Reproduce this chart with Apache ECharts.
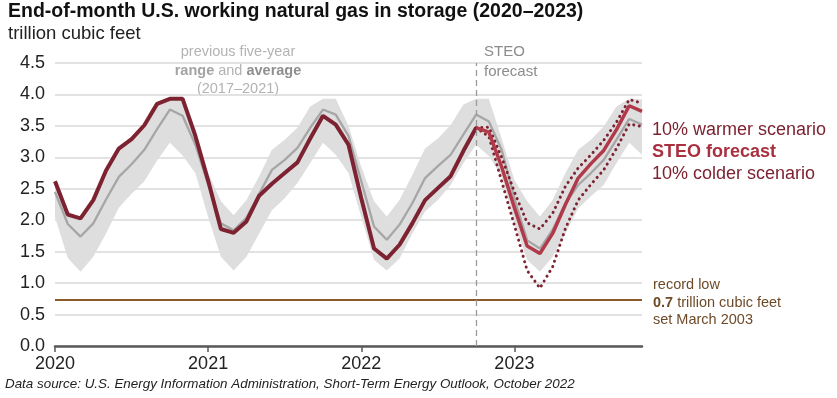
<!DOCTYPE html>
<html lang="en">
<head>
<meta charset="UTF-8">
<title>Working natural gas in storage</title>
<script src="https://cdn.jsdelivr.net/npm/echarts@6/dist/echarts.min.js"></script>
<style>
  html, body { margin: 0; padding: 0; background: #fff; }
  #chart { width: 837px; height: 398px; }
</style>
</head>
<body>
<div id="chart"></div>
<script>
// months Jan 2020 .. Nov 2023
var years = ['2020', '2021', '2022', '2023'];
var months = ['Jan', 'Feb', 'Mar', 'Apr', 'May', 'Jun', 'Jul', 'Aug', 'Sep', 'Oct', 'Nov', 'Dec'];
var categories = [];
years.forEach(function (y) {
    months.forEach(function (m) { categories.push(m + ' ' + y); });
});
categories = categories.slice(0, 47);

// trillion cubic feet
var storageHistory = [2.62, 2.09, 2.03, 2.32, 2.79, 3.14, 3.29, 3.51, 3.85, 3.93, 3.93, 3.34,
    2.63, 1.86, 1.80, 1.98, 2.39, 2.58, 2.75, 2.92, 3.30, 3.66, 3.52, 3.20,
    2.35, 1.55, 1.39, 1.61, 1.95, 2.32, 2.51, 2.70, 3.10, 3.47];
// Oct 2022 .. Nov 2023
var forecast = [3.47, 3.40, 2.85, 2.20, 1.59, 1.47, 1.79, 2.25, 2.67, 2.90, 3.11, 3.44, 3.82, 3.73];
var warmer = [3.47, 3.48, 3.00, 2.45, 1.96, 1.86, 2.11, 2.54, 2.83, 3.04, 3.27, 3.56, 3.92, 3.86];
var colder = [3.47, 3.33, 2.62, 1.92, 1.20, 0.92, 1.26, 1.87, 2.32, 2.57, 2.80, 3.14, 3.53, 3.49];

var average = [2.45, 1.94, 1.74, 1.95, 2.33, 2.69, 2.89, 3.12, 3.45, 3.76, 3.66, 3.20,
    2.57, 1.95, 1.84, 2.04, 2.42, 2.80, 2.96, 3.15, 3.47, 3.76, 3.68, 3.34,
    2.62, 1.90, 1.69, 1.93, 2.27, 2.67, 2.86, 3.04, 3.36, 3.68, 3.57, 3.12,
    2.35, 1.68, 1.55, 1.85, 2.27, 2.56, 2.75, 2.96, 3.28, 3.61, 3.52];
var rangeHigh = [2.58, 2.15, 2.04, 2.34, 2.76, 3.12, 3.27, 3.48, 3.82, 3.93, 3.93, 3.45,
    2.75, 2.30, 2.08, 2.32, 2.70, 3.12, 3.28, 3.47, 3.81, 3.93, 3.93, 3.50,
    2.85, 2.30, 2.06, 2.32, 2.72, 3.14, 3.30, 3.51, 3.84, 3.93, 3.93, 3.30,
    2.64, 2.30, 2.06, 2.32, 2.75, 3.12, 3.28, 3.49, 3.81, 3.93, 3.92];
var rangeLow = [2.05, 1.40, 1.18, 1.42, 1.79, 2.20, 2.42, 2.62, 2.95, 3.23, 3.03, 2.75,
    2.05, 1.42, 1.20, 1.42, 1.79, 2.16, 2.35, 2.59, 2.91, 3.23, 3.04, 2.75,
    2.05, 1.37, 1.20, 1.39, 1.79, 2.14, 2.32, 2.56, 2.91, 3.20, 3.02, 2.70,
    1.95, 1.37, 1.18, 1.42, 1.79, 2.19, 2.38, 2.56, 2.91, 3.23, 3.04];

var recordLow = 0.73;
var forecastStart = 33; // Oct 2022

var FONT = "'Liberation Sans', Arial, sans-serif";
var maroon = '#7d2231';
var steoRed = '#b0394a';
var brown = '#8a5a2b';

function padFront(arr, n) {
    return new Array(n).fill(null).concat(arr);
}
var bandSpan = rangeHigh.map(function (v, i) { return +(v - rangeLow[i]).toFixed(2); });

var chart = echarts.init(document.getElementById('chart'), null, {renderer: 'canvas'});
chart.setOption({
    animation: false,
    backgroundColor: '#fff',
    grid: {left: 55, right: 195, top: 63, bottom: 52},
    xAxis: {
        type: 'category',
        data: categories,
        boundaryGap: false,
        axisLine: {lineStyle: {color: '#595959', width: 2.5}},
        axisTick: {
            interval: function (i) { return i % 12 === 0; },
            length: 6,
            lineStyle: {color: '#595959', width: 1.5}
        },
        axisLabel: {
            interval: function (i) { return i % 12 === 0; },
            formatter: function (v) { return v.split(' ')[1]; },
            color: '#222',
            fontSize: 18,
            fontFamily: FONT,
            margin: 9
        },
        splitLine: {show: false}
    },
    yAxis: {
        type: 'value',
        min: 0,
        max: 4.5,
        interval: 0.5,
        axisLine: {show: false},
        axisTick: {show: false},
        axisLabel: {
            formatter: function (v) { return v.toFixed(1); },
            color: '#222',
            fontSize: 18,
            fontFamily: FONT,
            margin: 10
        },
        splitLine: {lineStyle: {color: '#d9d9d9', width: 1.5}}
    },
    series: [
        {
            name: 'rangeLow',
            type: 'line',
            data: rangeLow,
            stack: 'band',
            symbol: 'none',
            lineStyle: {opacity: 0},
            silent: true
        },
        {
            name: 'range',
            type: 'line',
            data: bandSpan,
            stack: 'band',
            symbol: 'none',
            lineStyle: {opacity: 0},
            areaStyle: {color: '#dedede', opacity: 1},
            silent: true,
            markLine: {
                silent: true,
                symbol: 'none',
                label: {show: false},
                lineStyle: {color: brown, width: 2, type: 'solid'},
                data: [{yAxis: recordLow}]
            }
        },
        {
            name: 'average',
            type: 'line',
            data: average,
            symbol: 'none',
            lineStyle: {color: '#a6a6a6', width: 2.3},
            silent: true,
            markLine: {
                silent: true,
                symbol: 'none',
                label: {show: false},
                lineStyle: {color: '#9a9a9a', width: 1.3, type: [6, 4]},
                data: [{xAxis: forecastStart}]
            }
        },
        {
            name: 'history',
            type: 'line',
            data: storageHistory,
            symbol: 'none',
            lineStyle: {color: maroon, width: 4},
            silent: true
        },
        {
            name: 'warmer',
            type: 'line',
            data: padFront(warmer, forecastStart),
            symbol: 'none',
            lineStyle: {color: maroon, width: 3, type: [0.1, 5.5], cap: 'round'},
            silent: true
        },
        {
            name: 'colder',
            type: 'line',
            data: padFront(colder, forecastStart),
            symbol: 'none',
            lineStyle: {color: maroon, width: 3, type: [0.1, 5.5], cap: 'round'},
            silent: true
        },
        {
            name: 'forecast',
            type: 'line',
            data: padFront(forecast, forecastStart),
            symbol: 'none',
            lineStyle: {color: steoRed, width: 3.5},
            silent: true
        }
    ],
    graphic: [
        {type: 'text', x: 8, y: 12, style: {text: 'End-of-month U.S. working natural gas in storage (2020\u20132023)', font: 'bold 19.5px ' + FONT, fill: '#111', verticalAlign: 'middle'}},
        {type: 'text', x: 8, y: 34, style: {text: 'trillion cubic feet', font: '18.5px ' + FONT, fill: '#222', verticalAlign: 'middle'}},

        {type: 'text', x: 238, y: 52, style: {text: 'previous five-year', font: '14.5px ' + FONT, fill: '#b3b3b3', align: 'center', verticalAlign: 'middle'}},
        {type: 'text', x: 238, y: 71, style: {
            text: '{r|range} and {a|average}', font: '14.5px ' + FONT, fill: '#b3b3b3', align: 'center', verticalAlign: 'middle',
            rich: {
                r: {font: 'bold 14.5px ' + FONT, fill: '#a3a3a3'},
                a: {font: 'bold 14.5px ' + FONT, fill: '#8f8f8f'}
            }
        }},
        {type: 'text', x: 238, y: 89, style: {text: '(2017\u20132021)', font: '14.5px ' + FONT, fill: '#b3b3b3', align: 'center', verticalAlign: 'middle'}},

        {type: 'text', x: 484, y: 52, style: {text: 'STEO', font: '15px ' + FONT, fill: '#8c8c8c', verticalAlign: 'middle'}},
        {type: 'text', x: 484, y: 72, style: {text: 'forecast', font: '15px ' + FONT, fill: '#8c8c8c', verticalAlign: 'middle'}},

        {type: 'text', x: 652, y: 130, style: {text: '10% warmer scenario', font: '18px ' + FONT, fill: maroon, verticalAlign: 'middle'}},
        {type: 'text', x: 652, y: 152, style: {text: 'STEO forecast', font: 'bold 18px ' + FONT, fill: '#a8303f', verticalAlign: 'middle'}},
        {type: 'text', x: 652, y: 174, style: {text: '10% colder scenario', font: '18px ' + FONT, fill: maroon, verticalAlign: 'middle'}},

        {type: 'text', x: 653, y: 285, style: {text: 'record low', font: '14.5px ' + FONT, fill: '#6e4a28', verticalAlign: 'middle'}},
        {type: 'text', x: 653, y: 303, style: {
            text: '{b|0.7} trillion cubic feet', font: '14.5px ' + FONT, fill: '#6e4a28', verticalAlign: 'middle',
            rich: {b: {font: 'bold 14.5px ' + FONT, fill: '#6e4a28'}}
        }},
        {type: 'text', x: 653, y: 320, style: {text: 'set March 2003', font: '14.5px ' + FONT, fill: '#6e4a28', verticalAlign: 'middle'}},

        {type: 'text', x: 5, y: 384, style: {text: 'Data source: U.S. Energy Information Administration, Short-Term Energy Outlook, October 2022', font: 'italic 13.4px ' + FONT, fill: '#222', verticalAlign: 'middle'}}
    ]
});
</script>
</body>
</html>
